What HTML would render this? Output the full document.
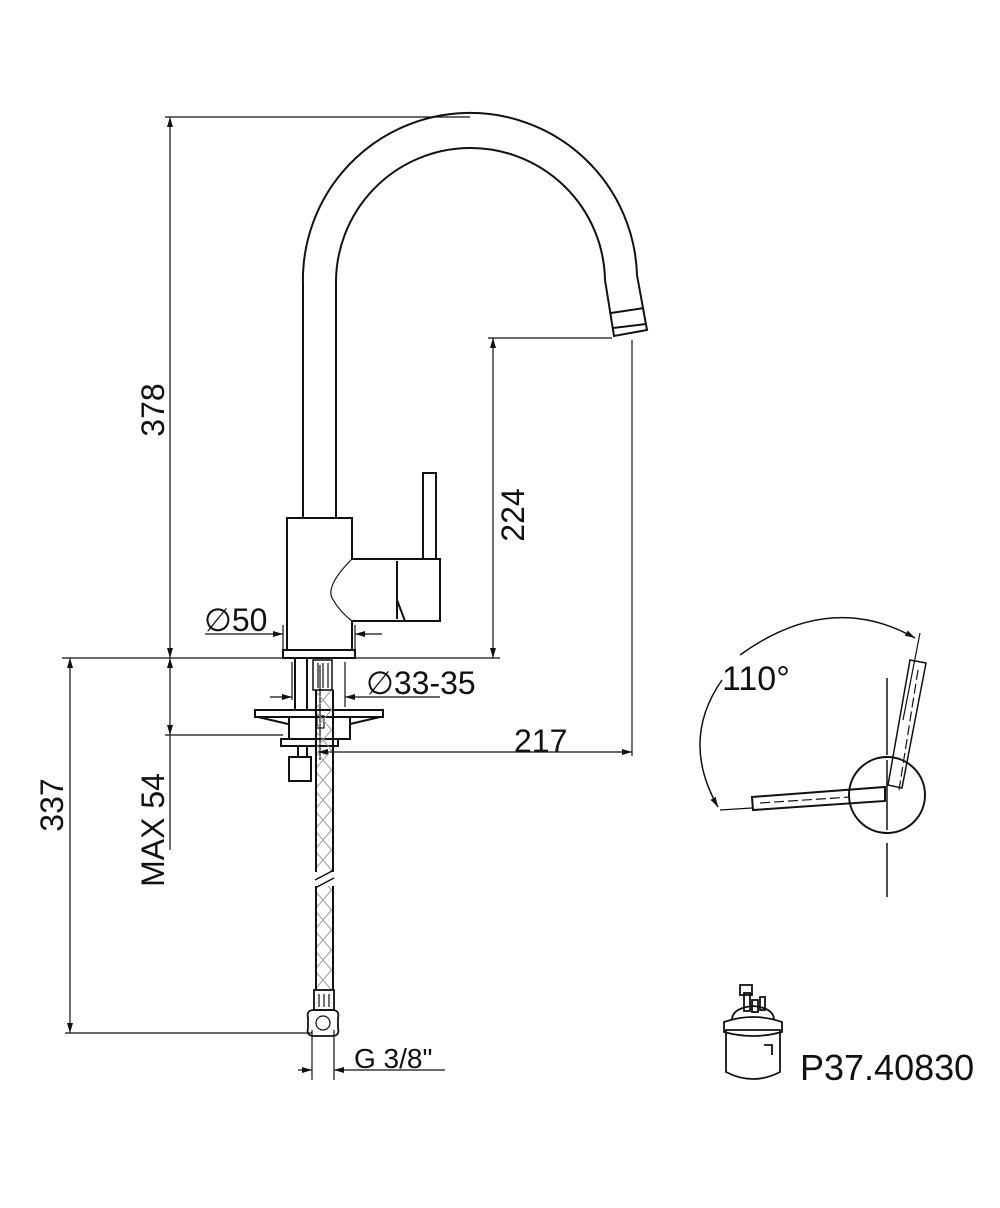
<!DOCTYPE html>
<html><head><style>
html,body{margin:0;padding:0;background:#fff}
svg{display:block}
text{font-family:"Liberation Sans",Arial,sans-serif;fill:#111}
</style></head><body>
<svg width="1000" height="1208" viewBox="0 0 1000 1208" xmlns="http://www.w3.org/2000/svg">
<defs>
<marker id="a" viewBox="0 0 10 6" refX="10" refY="3" markerWidth="10" markerHeight="6" orient="auto-start-reverse" markerUnits="userSpaceOnUse"><path d="M0,0 L10,3 L0,6z" fill="#111"/></marker>
<pattern id="mesh" width="17" height="20" patternUnits="userSpaceOnUse"><path d="M0,0 L17,20 M17,0 L0,20" stroke="#999" stroke-width="1" fill="none"/></pattern>
</defs>
<g stroke="#111" fill="none" stroke-width="1.2">
<line x1="165" y1="117" x2="470" y2="117"/>
<line x1="170" y1="117" x2="170" y2="658" marker-start="url(#a)" marker-end="url(#a)"/>
<line x1="62" y1="658" x2="500" y2="658"/>
<line x1="488" y1="338" x2="612" y2="338"/>
<line x1="493" y1="338" x2="493" y2="658" marker-start="url(#a)" marker-end="url(#a)"/>
<line x1="632" y1="340" x2="632" y2="756"/>
<line x1="318" y1="752" x2="632" y2="752" marker-start="url(#a)" marker-end="url(#a)"/>
<line x1="70" y1="658" x2="70" y2="1033" marker-start="url(#a)" marker-end="url(#a)"/>
<line x1="65" y1="1033" x2="312" y2="1033"/>
<line x1="170" y1="658" x2="170" y2="735" marker-start="url(#a)" marker-end="url(#a)"/>
<line x1="170" y1="735" x2="170" y2="850"/>
<line x1="165" y1="735" x2="283" y2="735"/>
<line x1="205" y1="634" x2="283" y2="634" marker-end="url(#a)"/>
<line x1="382" y1="634" x2="355" y2="634" marker-end="url(#a)"/>
<line x1="283" y1="625" x2="283" y2="650"/><line x1="355" y1="625" x2="355" y2="650"/>
<line x1="270" y1="697" x2="292" y2="697" marker-end="url(#a)"/>
<line x1="440" y1="697" x2="345" y2="697" marker-end="url(#a)"/>
<line x1="345" y1="662" x2="345" y2="707"/>
<line x1="292" y1="662" x2="292" y2="700"/>
<line x1="312" y1="1030" x2="312" y2="1080"/><line x1="334" y1="1030" x2="334" y2="1080"/>
<line x1="298" y1="1070" x2="312" y2="1070" marker-end="url(#a)"/>
<line x1="445" y1="1070" x2="334" y2="1070" marker-end="url(#a)"/>
<g stroke-width="2">
<path d="M303,518 L303,285 A167,167 0 0 1 637,275 L647,330 L614,336 L605,280 A134,134 0 0 0 336,285 L336,518"/>
<line x1="611" y1="313" x2="644" y2="308"/>
<line x1="613" y1="328" x2="646" y2="324"/>
<path d="M287,518 L352,518 L352,559 L440,559 L440,621 L352,621 L352,650 L287,650 Z"/>
<line x1="397" y1="561" x2="397" y2="619"/>
<path d="M397,600 L405,621"/>
<path d="M352,559 Q326,585 332,598 Q340,612 352,621" stroke-width="1.2"/>
<rect x="423" y="473" width="13" height="86"/>
<rect x="283" y="650" width="72" height="8"/>
<line x1="295" y1="658" x2="295" y2="710"/>
<line x1="307" y1="658" x2="307" y2="710"/>
<rect x="313" y="660" width="19" height="30" stroke-width="1.5"/>
<path d="M255,710 L383,710 L383,717 L255,717 Z"/>
<path d="M258,717 L288,724 M380,717 L350,724"/>
<rect x="289" y="717" width="61" height="22"/>
<rect x="281" y="739" width="57" height="7"/>
<rect x="289" y="757" width="22" height="24"/>
<line x1="298" y1="746" x2="298" y2="757"/><line x1="307" y1="746" x2="307" y2="757"/>
</g>
<line x1="318" y1="663" x2="318" y2="688"/><line x1="323" y1="663" x2="323" y2="688"/><line x1="328" y1="663" x2="328" y2="688"/>
<rect x="317" y="716" width="7" height="12"/>
<line x1="320" y1="665" x2="320" y2="760"/>
<rect x="316" y="690" width="17" height="300" fill="url(#mesh)"/>
<line x1="316" y1="690" x2="316" y2="990" stroke-width="2"/>
<line x1="333" y1="690" x2="333" y2="990" stroke-width="2"/>
<rect x="312" y="872" width="26" height="14" fill="#fff" stroke="none"/>
<path d="M315,880 L334,870 M315,888 L334,878" stroke-width="1.5"/>
<rect x="314" y="990" width="20" height="20" stroke-width="1.8"/>
<line x1="319" y1="994" x2="319" y2="1007"/><line x1="324" y1="994" x2="324" y2="1007"/><line x1="329" y1="994" x2="329" y2="1007"/>
<path d="M308,1018 Q306,1010 314,1010 L332,1010 Q340,1010 338,1018 L338,1028 Q340,1036 332,1036 L314,1036 Q306,1036 308,1028 Z" stroke-width="1.8"/>
<circle cx="323" cy="1023" r="7"/>
<g stroke-width="2">
<circle cx="887" cy="795" r="38"/>
<path d="M752,797 L885,787 L885,801 L753,810 Z"/>
<path d="M910,660 L926,663 L902,788 L888,785 Z" stroke-width="1.5"/>
</g>
<line x1="887" y1="678" x2="887" y2="755" stroke-width="1.5"/>
<line x1="887" y1="760" x2="887" y2="830" stroke-width="1.5"/>
<line x1="887" y1="843" x2="887" y2="897" stroke-width="1.5"/>
<line x1="760" y1="803" x2="850" y2="797" stroke-dasharray="10,4"/>
<line x1="918" y1="670" x2="899" y2="790" stroke-dasharray="10,4"/>
<line x1="920" y1="633" x2="903" y2="720"/>
<line x1="720" y1="810" x2="752" y2="808"/>
<path d="M718,807 Q680,740 722,680" stroke-width="1.5" marker-start="url(#a)"/>
<path d="M740,655 Q830,590 915,638" stroke-width="1.5" marker-end="url(#a)"/>
<g stroke-width="1.8">
<path d="M726,1030 L780,1030 L780,1072 Q753,1086 726,1072 Z"/>
<path d="M724,1022 Q753,1012 782,1022 L782,1032 Q753,1040 724,1032 Z"/>
<path d="M732,1020 Q732,1008 753,1006 Q774,1008 774,1020"/>
<rect x="744" y="993" width="6" height="18"/><rect x="752" y="1000" width="6" height="12"/><rect x="760" y="997" width="5" height="13"/>
<rect x="740" y="985" width="12" height="10"/>
<path d="M764,1045 L772,1045 L772,1055"/>
</g>
</g>
<g font-size="32">
<text transform="translate(164,410) rotate(-90)" text-anchor="middle">378</text>
<text transform="translate(524,515) rotate(-90)" text-anchor="middle">224</text>
<text transform="translate(63,805) rotate(-90)" text-anchor="middle">337</text>
<text transform="translate(164,830) rotate(-90)" text-anchor="middle">MAX 54</text>
<text x="514" y="752">217</text>
<text x="204" y="631">∅50</text>
<text x="366" y="694">∅33-35</text>
<text x="354" y="1068" font-size="28">G 3/8"</text>
<text x="722" y="690" font-size="34">110°</text>
<text x="800" y="1080" font-size="36">P37.40830</text>
</g>
</svg>
</body></html>
